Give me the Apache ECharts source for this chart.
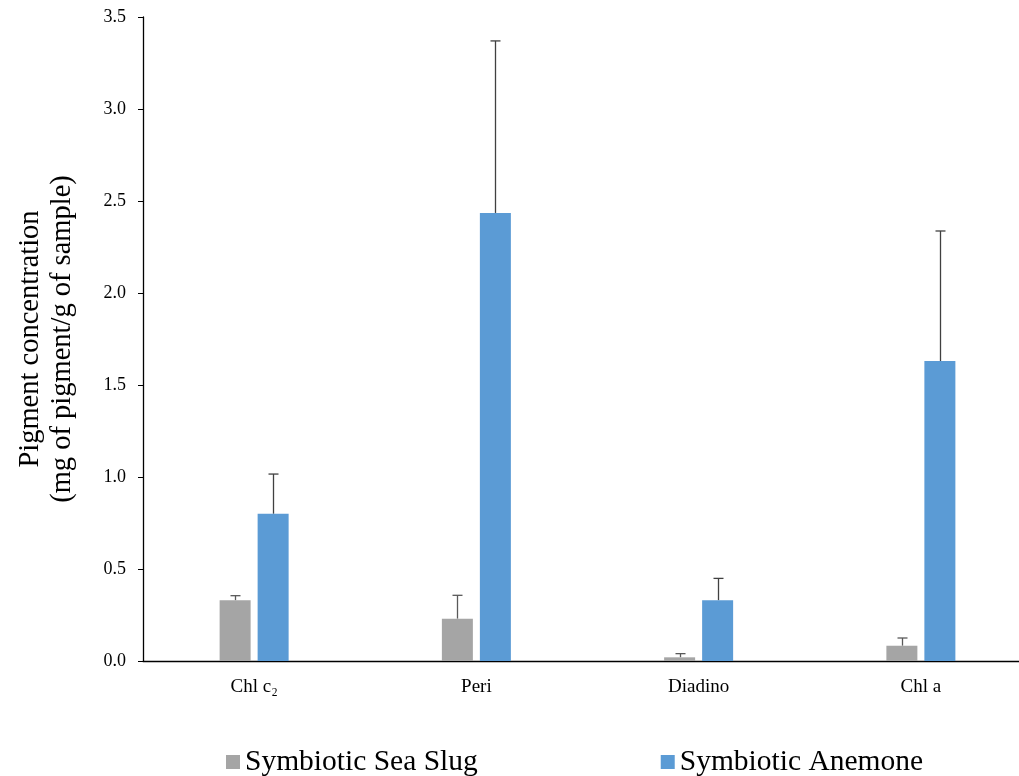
<!DOCTYPE html>
<html><head><meta charset="utf-8">
<script src="https://cdn.jsdelivr.net/npm/echarts@6/dist/echarts.min.js"></script>
<style>html,body{margin:0;padding:0;background:#fff}#c{width:1019px;height:776px}</style>
</head><body><div id="c"></div>
<script>
const categories = ['Chl c\u2082', 'Peri', 'Diadino', 'Chl a'];
const slugValues = [0.33, 0.23, 0.02, 0.083];
const slugUpper = [0.355, 0.357, 0.04, 0.125];
const anemoneValues = [0.80, 2.435, 0.33, 1.63];
const anemoneUpper = [1.016, 3.37, 0.449, 2.337];
const seriesNames = ['Symbiotic Sea Slug', 'Symbiotic Anemone'];
const yTicks = {min: 0, max: 3.5, interval: 0.5};

const BW = 31, GAP = 7;
const font = 'Liberation Serif, Times New Roman, serif';

function errSeries(vals, upper, dir, color) {
  return {
    type: 'custom',
    silent: true,
    z: 1,
    data: vals.map((v, i) => [i, v, upper[i]]),
    renderItem: function (params, api) {
      const off = dir * (BW + GAP) / 2;
      const p0 = api.coord([api.value(0), api.value(1)]);
      const p1 = api.coord([api.value(0), api.value(2)]);
      const x = Math.round(p0[0] + off) + 0.5;
      return {
        type: 'group',
        children: [
          {type: 'line', shape: {x1: x, y1: p0[1], x2: x, y2: p1[1]}, style: {stroke: color, lineWidth: 1.3}},
          {type: 'line', shape: {x1: x - 5, y1: p1[1], x2: x + 5, y2: p1[1]}, style: {stroke: color, lineWidth: 1.3}}
        ]
      };
    }
  };
}

const chart = echarts.init(document.getElementById('c'));
chart.setOption({
  animation: false,
  textStyle: {fontFamily: font},
  grid: {left: 143, width: 889, top: 17, bottom: 115, containLabel: false, outerBoundsMode: 'none'},
  legend: {
    top: 742, left: 221,
    itemWidth: 14, itemHeight: 14, itemGap: 183,
    icon: 'rect',
    textStyle: {fontFamily: font, fontSize: 29.5, color: '#000'},
    data: seriesNames
  },
  xAxis: {
    type: 'category',
    data: categories,
    axisLine: {lineStyle: {color: '#000', width: 1.3}},
    axisTick: {show: false},
    axisLabel: {fontFamily: font, fontSize: 19, color: '#000', margin: 17}
  },
  yAxis: {
    type: 'value',
    min: yTicks.min, max: yTicks.max, interval: yTicks.interval,
    name: 'Pigment concentration\n(mg of pigment/g of sample)',
    nameLocation: 'middle', nameRotate: 90, nameGap: 64,
    nameTextStyle: {fontFamily: font, fontSize: 28.5, color: '#000', lineHeight: 32},
    splitLine: {show: false},
    axisLine: {show: true, lineStyle: {color: '#000', width: 1.3}},
    axisTick: {show: true, length: 5, lineStyle: {color: '#000'}},
    axisLabel: {fontFamily: font, fontSize: 18, color: '#000', margin: 17, formatter: v => v.toFixed(1)}
  },
  series: [
    {name: seriesNames[0], type: 'bar', data: slugValues, barWidth: BW, barGap: (GAP / BW * 100) + '%', itemStyle: {color: '#A5A5A5'}, z: 2},
    {name: seriesNames[1], type: 'bar', data: anemoneValues, barWidth: BW, itemStyle: {color: '#5B9BD5'}, z: 2},
    errSeries(slugValues, slugUpper, -1, '#595959'),
    errSeries(anemoneValues, anemoneUpper, 1, '#404040')
  ]
});
</script></body></html>
